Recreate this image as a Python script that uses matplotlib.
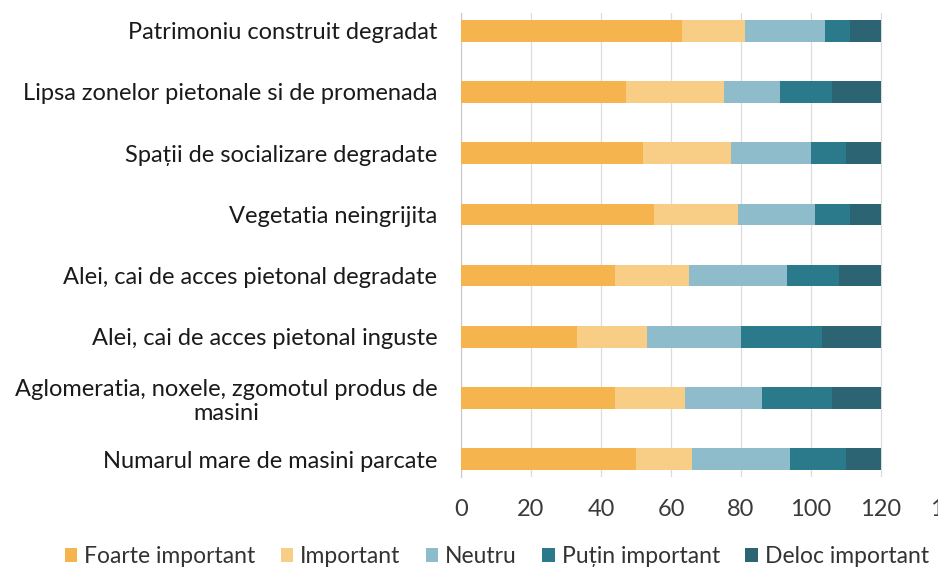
import matplotlib.pyplot as plt
import numpy as np

plt.rcParams['font.family'] = ['Lato', 'DejaVu Sans']

categorii = [
    "Patrimoniu construit degradat",
    "Lipsa zonelor pietonale si de promenada",
    "Spații de socializare degradate",
    "Vegetatia neingrijita",
    "Alei, cai de acces pietonal degradate",
    "Alei, cai de acces pietonal inguste",
    "Aglomeratia, noxele, zgomotul produs de\nmasini",
    "Numarul mare de masini parcate",
]
foarte_important = [63, 47, 52, 55, 44, 33, 44, 50]
important = [18, 28, 25, 24, 21, 20, 20, 16]
neutru = [23, 16, 23, 22, 28, 27, 22, 28]
putin_important = [7, 15, 10, 10, 15, 23, 20, 16]
deloc_important = [9, 14, 10, 9, 12, 17, 14, 10]

serii = ["Foarte important", "Important", "Neutru", "Puțin important", "Deloc important"]
culori = ["#F5B44D", "#F8CD85", "#8FBCCB", "#2B7A8C", "#2D6474"]
tick_vals = [0, 20, 40, 60, 80, 100, 120, 140]

fig = plt.figure(figsize=(9.38, 5.8), dpi=100)
ax = fig.add_axes([0.4915, 0.1776, 0.5224, 0.8])

y = np.arange(len(categorii))
left = np.zeros(len(categorii))
for nume, vals, c in zip(serii, [foarte_important, important, neutru, putin_important, deloc_important], culori):
    ax.barh(y, vals, left=left, height=0.355, color=c, label=nume, zorder=3)
    left += np.array(vals)

ax.set_xlim(0, 140)
ax.set_ylim(7.29, -0.29)
ax.set_xticks(tick_vals)
ax.set_xticklabels([str(v) for v in tick_vals], fontsize=17, color="#3a3a3a")
ax.set_yticks(y)
ax.set_yticklabels(categorii, fontsize=17, color="#1a1a1a", multialignment='center')
ax.tick_params(axis='x', length=0, pad=16)
ax.tick_params(axis='y', length=0, pad=17)
ax.grid(axis='x', color="#dcdcdc", linewidth=0.9, zorder=0)
for s in ['top', 'right', 'bottom']:
    ax.spines[s].set_visible(False)
ax.spines['left'].set_color("#c8c8c8")

fig.legend(loc='center left', bbox_to_anchor=(0.069, 0.040), ncol=5, frameon=False,
           fontsize=16.5, handlelength=0.55, handleheight=0.55, handletextpad=0.3,
           columnspacing=1.1, borderpad=0, borderaxespad=0, labelcolor="#333333")

fig.savefig("out.png", dpi=100)
